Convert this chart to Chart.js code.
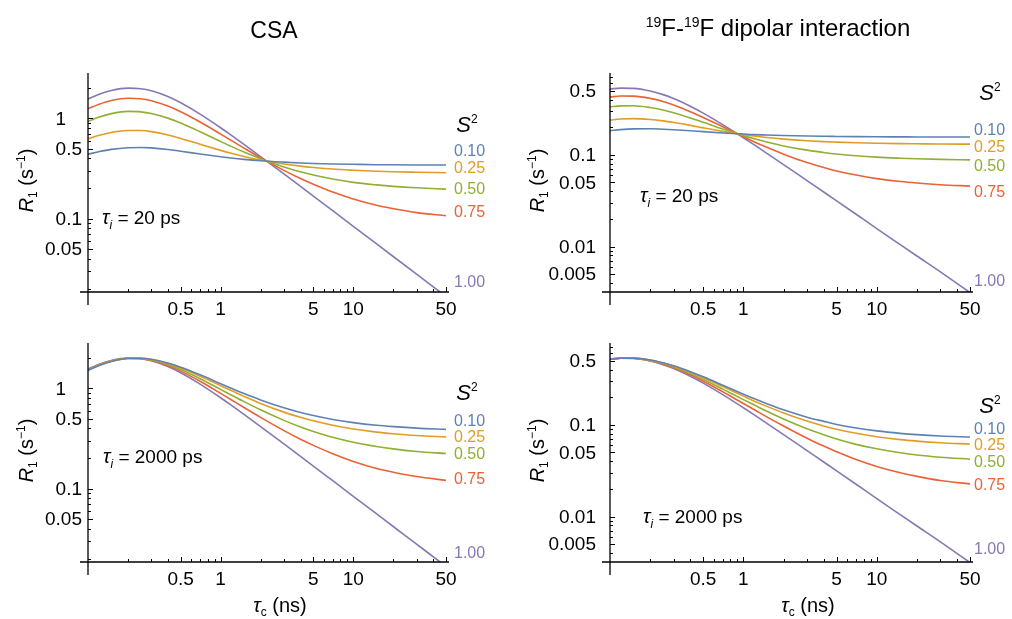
<!DOCTYPE html>
<html>
<head>
<meta charset="utf-8">
<script src="https://cdn.jsdelivr.net/npm/chart.js@4.4.1/dist/chart.umd.min.js"></script>
<style>
  html, body { margin: 0; padding: 0; background: #fff; }
  #wrap { position: relative; width: 1012px; height: 619px; }
  #wrap canvas { position: absolute; left: 0; top: 0; }
</style>
</head>
<body>
<div id="wrap">
  <canvas id="csaFastChart" width="1012" height="619"></canvas>
  <canvas id="csaSlowChart" width="1012" height="619"></canvas>
  <canvas id="dipFastChart" width="1012" height="619"></canvas>
  <canvas id="dipSlowChart" width="1012" height="619"></canvas>
</div>
<script>
// tau_c (ns) sample points
const tauC = [0.1, 0.12, 0.15, 0.2, 0.25, 0.3, 0.4, 0.5, 0.7, 1, 1.2, 1.5, 2, 3, 4, 5, 7, 10, 15, 20, 30, 50];
const orderParams = ['0.10', '0.25', '0.50', '0.75', '1.00'];
const xTickLabels = [0.5, 1, 5, 10, 50];
const csaTickLabels = [0.05, 0.1, 0.5, 1];
const dipTickLabels = [0.005, 0.01, 0.05, 0.1, 0.5];

// R1 (s^-1), one row per S^2 (0.10, 0.25, 0.50, 0.75, 1.00)
const csaFast = [
  [0.439, 0.464, 0.490, 0.509, 0.512, 0.507, 0.489, 0.470, 0.441, 0.414, 0.402, 0.390, 0.378, 0.366, 0.359, 0.355, 0.351, 0.348, 0.345, 0.344, 0.343, 0.342],
  [0.625, 0.674, 0.723, 0.757, 0.755, 0.736, 0.682, 0.630, 0.551, 0.479, 0.448, 0.417, 0.384, 0.351, 0.334, 0.324, 0.312, 0.304, 0.297, 0.293, 0.290, 0.287],
  [0.934, 1.024, 1.113, 1.171, 1.160, 1.117, 1.004, 0.896, 0.734, 0.587, 0.525, 0.461, 0.395, 0.327, 0.293, 0.272, 0.248, 0.230, 0.217, 0.210, 0.203, 0.197],
  [1.244, 1.373, 1.503, 1.584, 1.565, 1.498, 1.325, 1.162, 0.918, 0.696, 0.602, 0.505, 0.405, 0.303, 0.251, 0.220, 0.184, 0.157, 0.136, 0.126, 0.115, 0.107],
  [1.553, 1.723, 1.892, 1.998, 1.970, 1.879, 1.647, 1.428, 1.101, 0.805, 0.679, 0.549, 0.416, 0.279, 0.2095, 0.168, 0.120, 0.084, 0.056, 0.042, 0.028, 0.0168]
];
const csaSlow = [
  [1.510, 1.676, 1.849, 1.981, 1.994, 1.947, 1.788, 1.625, 1.363, 1.112, 1.003, 0.887, 0.766, 0.639, 0.574, 0.535, 0.489, 0.455, 0.428, 0.415, 0.401, 0.390],
  [1.517, 1.684, 1.856, 1.984, 1.990, 1.935, 1.765, 1.592, 1.319, 1.061, 0.949, 0.831, 0.707, 0.579, 0.514, 0.474, 0.428, 0.393, 0.366, 0.353, 0.339, 0.328],
  [1.529, 1.697, 1.868, 1.989, 1.984, 1.917, 1.726, 1.538, 1.247, 0.975, 0.859, 0.737, 0.610, 0.479, 0.412, 0.372, 0.325, 0.290, 0.263, 0.249, 0.235, 0.224],
  [1.541, 1.710, 1.880, 1.993, 1.977, 1.898, 1.686, 1.483, 1.174, 0.890, 0.769, 0.643, 0.513, 0.379, 0.311, 0.270, 0.223, 0.187, 0.159, 0.146, 0.132, 0.121],
  [1.553, 1.723, 1.892, 1.998, 1.970, 1.879, 1.647, 1.428, 1.101, 0.805, 0.679, 0.549, 0.416, 0.279, 0.2095, 0.168, 0.120, 0.084, 0.056, 0.042, 0.028, 0.0168]
];
const dipFast = [
  [0.183, 0.188, 0.1915, 0.192, 0.190, 0.1876, 0.183, 0.1787, 0.173, 0.1683, 0.166, 0.1644, 0.1622, 0.1601, 0.159, 0.1584, 0.1576, 0.1571, 0.1567, 0.1565, 0.1562, 0.1561],
  [0.239, 0.245, 0.2478, 0.2427, 0.234, 0.2247, 0.209, 0.1964, 0.1798, 0.1658, 0.160, 0.1542, 0.1483, 0.1422, 0.139, 0.1373, 0.1351, 0.1335, 0.1323, 0.1318, 0.1311, 0.1306],
  [0.333, 0.341, 0.3418, 0.3271, 0.307, 0.2865, 0.252, 0.2258, 0.1909, 0.1617, 0.150, 0.1375, 0.1249, 0.1123, 0.106, 0.102, 0.0976, 0.0943, 0.0918, 0.0904, 0.0891, 0.0881],
  [0.426, 0.437, 0.4356, 0.4115, 0.380, 0.3481, 0.295, 0.2552, 0.2021, 0.1575, 0.139, 0.1206, 0.1016, 0.0822, 0.0726, 0.0667, 0.0601, 0.055, 0.0511, 0.0492, 0.0472, 0.0456],
  [0.520, 0.533, 0.5295, 0.4958, 0.4523, 0.4099, 0.3384, 0.2846, 0.2132, 0.1533, 0.1288, 0.1037, 0.0782, 0.0523, 0.0393, 0.0315, 0.0225, 0.0157, 0.0105, 0.0079, 0.0053, 0.00315]
];
const dipSlow = [
  [0.5145, 0.531, 0.5327, 0.5088, 0.474, 0.4396, 0.379, 0.3332, 0.270, 0.2156, 0.193, 0.1698, 0.1458, 0.1211, 0.109, 0.1009, 0.0923, 0.0858, 0.0807, 0.0781, 0.0755, 0.0735],
  [0.5154, 0.531, 0.5322, 0.5067, 0.471, 0.4347, 0.373, 0.3251, 0.2605, 0.2053, 0.182, 0.1587, 0.1346, 0.1097, 0.097, 0.0894, 0.0807, 0.0741, 0.0689, 0.0664, 0.0638, 0.0617],
  [0.517, 0.532, 0.5313, 0.503, 0.465, 0.4265, 0.361, 0.3116, 0.2448, 0.188, 0.165, 0.1405, 0.1158, 0.0906, 0.0779, 0.0701, 0.0612, 0.0547, 0.0495, 0.0468, 0.0443, 0.0422],
  [0.5185, 0.532, 0.5304, 0.4995, 0.458, 0.4181, 0.350, 0.2981, 0.229, 0.1707, 0.147, 0.1221, 0.097, 0.0714, 0.0586, 0.0508, 0.0419, 0.0352, 0.030, 0.0274, 0.0247, 0.0227],
  [0.520, 0.533, 0.5295, 0.4958, 0.4523, 0.4099, 0.3384, 0.2846, 0.2132, 0.1533, 0.1288, 0.1037, 0.0782, 0.0523, 0.0393, 0.0315, 0.0225, 0.0157, 0.0105, 0.0079, 0.0053, 0.00315]
];

const colors = ['#5e81b5', '#e19c24', '#8fb032', '#eb6235', '#8778b3'];
const FAMILY = '"Liberation Sans", Arial, Helvetica, sans-serif';

// layout of the four panels (pixels)
const panels = [
  { id: 'csaFastChart', rows: csaFast, yMin: 0.0186, yMax: 2.7, yTicks: csaTickLabels, tauI: '20',
    area: { left: 88, top: 75, right: 446, bottom: 292 }, yLabelGap: 6, yTitleX: 26,
    title: 'csa', tauPos: [102, 224], s2Pos: [467, 132], labelGap: 8, nudges: [-13, -4, 0, -3, -9] },
  { id: 'csaSlowChart', rows: csaSlow, yMin: 0.0186, yMax: 2.7, yTicks: csaTickLabels, tauI: '2000',
    area: { left: 88, top: 345, right: 446, bottom: 562 }, yLabelGap: 6, yTitleX: 26, xTitleX: 280,
    tauPos: [103, 463], s2Pos: [467, 400], labelGap: 8, nudges: [-8, 1, 1, -1, -8] },
  { id: 'dipFastChart', rows: dipFast, yMin: 0.0032, yMax: 0.74, yTicks: dipTickLabels, tauI: '20',
    area: { left: 610, top: 75, right: 970, bottom: 292 }, yLabelGap: 14, yTitleX: 537,
    title: 'dip', tauPos: [640, 202], s2Pos: [990, 100], labelGap: 4, nudges: [-6, 3, 7, 7, -10] },
  { id: 'dipSlowChart', rows: dipSlow, yMin: 0.0032, yMax: 0.74, yTicks: dipTickLabels, tauI: '2000',
    area: { left: 610, top: 345, right: 970, bottom: 562 }, yLabelGap: 14, yTitleX: 537, xTitleX: 808,
    tauPos: [643, 523], s2Pos: [990, 413], labelGap: 4, nudges: [-7, 2, 3, 2, -12] }
];

function fnt(p) {
  return (p.it ? 'italic ' : '') + p.s + 'px ' + FAMILY;
}

function drawRich(ctx, parts, x, y, align) {
  let w = 0;
  parts.forEach(p => { ctx.font = fnt(p); p.w = ctx.measureText(p.t).width; w += p.w; });
  let cx = align === 'center' ? x - w / 2 : align === 'right' ? x - w : x;
  ctx.textAlign = 'left';
  ctx.textBaseline = 'alphabetic';
  parts.forEach(p => { ctx.font = fnt(p); ctx.fillText(p.t, cx, y + (p.dy || 0)); cx += p.w; });
}

function logSteps(min, max) {
  const out = [];
  for (let e = Math.floor(Math.log10(min)); e <= Math.ceil(Math.log10(max)); e++) {
    for (let m = 1; m <= 9; m++) {
      const v = parseFloat((m * Math.pow(10, e)).toPrecision(6));
      if (v >= min * 0.999 && v <= max * 1.001) out.push(v);
    }
  }
  return out;
}

const mmaAxes = {
  id: 'mmaAxes',
  afterDatasetsDraw(chart, args, opts) {
    const ctx = chart.ctx, xs = chart.scales.x, ys = chart.scales.y, a = chart.chartArea;
    const P = opts.panel;
    ctx.save();
    ctx.strokeStyle = '#000';
    ctx.fillStyle = '#000';
    ctx.lineWidth = 1.3;
    ctx.beginPath();
    ctx.moveTo(a.left - 8, a.bottom); ctx.lineTo(a.right + 3, a.bottom);
    ctx.moveTo(a.left, a.top - 2); ctx.lineTo(a.left, a.bottom + 13);
    ctx.stroke();

    ctx.lineWidth = 1;
    ctx.beginPath();
    logSteps(xs.min, xs.max).forEach(v => {
      if (v <= xs.min * 1.001) return;
      const px = Math.round(xs.getPixelForValue(v)) + 0.5;
      const len = xTickLabels.includes(v) ? 5 : 3;
      ctx.moveTo(px, a.bottom); ctx.lineTo(px, a.bottom - len);
    });
    logSteps(ys.min, ys.max).forEach(v => {
      const py = Math.round(ys.getPixelForValue(v)) + 0.5;
      const len = P.yTicks.includes(v) ? 5 : 3;
      ctx.moveTo(a.left, py); ctx.lineTo(a.left + len, py);
    });
    ctx.stroke();

    // tick labels
    ctx.font = '19px ' + FAMILY;
    ctx.textBaseline = 'middle';
    ctx.textAlign = 'center';
    xTickLabels.forEach(v => ctx.fillText(String(v), xs.getPixelForValue(v), a.bottom + 18));
    ctx.textAlign = 'right';
    const decW = ctx.measureText('.5').width;
    P.yTicks.forEach(v => {
      const s = String(v);
      const edge = a.left - P.yLabelGap - (s.includes('.') ? 0 : decW);
      ctx.fillText(s, edge, ys.getPixelForValue(v) + 1);
    });

    // y title
    ctx.save();
    ctx.translate(P.yTitleX, (a.top + a.bottom) / 2 - 3);
    ctx.rotate(-Math.PI / 2);
    drawRich(ctx, [
      { t: 'R', it: true, s: 20 }, { t: '1', s: 12, dy: 4 }, { t: ' (s', s: 20 },
      { t: '\u22121', s: 12, dy: -8 }, { t: ')', s: 20 }
    ], 0, 7, 'center');
    ctx.restore();

    // x title on bottom panels
    if (P.xTitleX) {
      drawRich(ctx, [
        { t: '\u03c4', it: true, s: 20 }, { t: 'c', s: 12, dy: 4 }, { t: ' (ns)', s: 20 }
      ], P.xTitleX, 612, 'center');
    }

    // tau_i annotation
    drawRich(ctx, [
      { t: '\u03c4', it: true, s: 20 }, { t: 'i', it: true, s: 12, dy: 5 }, { t: ' = ' + P.tauI + ' ps', s: 19 }
    ], P.tauPos[0], P.tauPos[1], 'left');

    // S^2 legend
    drawRich(ctx, [{ t: 'S', it: true, s: 22 }, { t: '2', s: 12, dy: -9 }], P.s2Pos[0], P.s2Pos[1], 'center');

    // end labels
    ctx.font = '16px ' + FAMILY;
    ctx.textAlign = 'left';
    ctx.textBaseline = 'middle';
    P.rows.forEach((r, i) => {
      let py = ys.getPixelForValue(r[r.length - 1]);
      py = Math.min(Math.max(py, a.top), a.bottom) + P.nudges[i];
      ctx.fillStyle = colors[i];
      ctx.fillText(orderParams[i], a.right + P.labelGap, py);
    });

    // panel column titles
    ctx.fillStyle = '#000';
    if (P.title === 'csa') {
      drawRich(ctx, [{ t: 'CSA', s: 23 }], 274, 38, 'center');
    } else if (P.title === 'dip') {
      drawRich(ctx, [
        { t: '19', s: 14, dy: -9 }, { t: 'F-', s: 24 }, { t: '19', s: 14, dy: -9 },
        { t: 'F dipolar interaction', s: 24 }
      ], 778, 36, 'center');
    }
    ctx.restore();
  }
};

panels.forEach(P => {
  const a = P.area;
  new Chart(document.getElementById(P.id), {
    type: 'line',
    data: {
      datasets: P.rows.map((r, i) => ({
        label: 'S2 = ' + orderParams[i],
        data: tauC.map((t, j) => ({ x: t, y: r[j] })),
        borderColor: colors[i],
        borderWidth: 1.6,
        pointRadius: 0,
        fill: false,
        cubicInterpolationMode: 'monotone'
      }))
    },
    options: {
      responsive: false,
      animation: false,
      events: [],
      layout: { padding: { left: a.left, top: a.top, right: 1012 - a.right, bottom: 619 - a.bottom } },
      scales: {
        x: { type: 'logarithmic', min: 0.1, max: 50, display: false },
        y: { type: 'logarithmic', min: P.yMin, max: P.yMax, display: false }
      },
      plugins: {
        legend: { display: false },
        tooltip: { enabled: false },
        mmaAxes: { panel: P }
      }
    },
    plugins: [mmaAxes]
  });
});
</script>
</body>
</html>
